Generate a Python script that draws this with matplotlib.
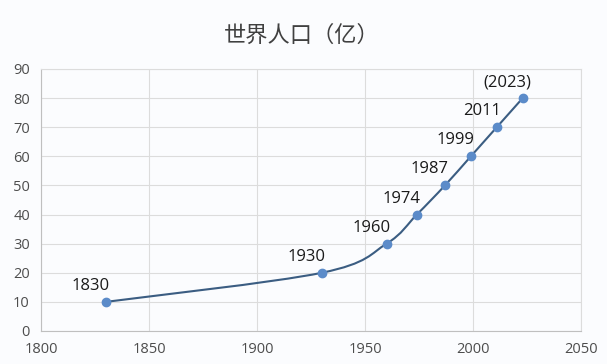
"""World population line chart (Excel-style smoothed line) as PNG."""

import matplotlib.pyplot as plt
import matplotlib as mpl
from matplotlib.path import Path
from matplotlib.patches import PathPatch

# Data: world population milestones (hundred millions)
YEARS = [1830, 1930, 1960, 1974, 1987, 1999, 2011, 2023]
POPULATION = [10, 20, 30, 40, 50, 60, 70, 80]
LABELS = ["1830", "1930", "1960", "1974", "1987", "1999", "2011", "(2023)"]

TITLE = "世界人口（亿）"
X_TICKS = [1800, 1850, 1900, 1950, 2000, 2050]
Y_TICKS = list(range(0, 91, 10))

COLOR_LINE = "#3b5d82"
COLOR_MARKER = "#5b8bc9"
COLOR_GRID = "#dcdcdc"
COLOR_TEXT = "#4d4d4d"
COLOR_BG = "#fbfcfe"

LATIN = ["Open Sans", "DejaVu Sans"]
CJK = ["Noto Sans CJK SC", "DejaVu Sans"]


def smooth_path(xs, ys):
    """Excel-like smoothed line: cubic Bezier segments through every point."""
    pts = list(zip(xs, ys))
    verts = [pts[0]]
    codes = [Path.MOVETO]
    n = len(pts)
    for i in range(n - 1):
        p0 = pts[max(i - 1, 0)]
        p1 = pts[i]
        p2 = pts[i + 1]
        p3 = pts[min(i + 2, n - 1)]
        c1 = (p1[0] + (p2[0] - p0[0]) / 6, p1[1] + (p2[1] - p0[1]) / 6)
        c2 = (p2[0] - (p3[0] - p1[0]) / 6, p2[1] - (p3[1] - p1[1]) / 6)
        verts += [c1, c2, p2]
        codes += [Path.CURVE4] * 3
    return Path(verts, codes)


def main() -> None:
    mpl.rcParams.update(
        {
            "font.family": LATIN,
            "figure.facecolor": COLOR_BG,
            "axes.facecolor": COLOR_BG,
            "savefig.facecolor": COLOR_BG,
        }
    )

    fig = plt.figure(figsize=(6.07, 3.64), dpi=100)
    ax = fig.add_axes([41 / 607, 33 / 364, 540 / 607, 262 / 364])

    patch = PathPatch(
        smooth_path(YEARS, POPULATION),
        facecolor="none",
        edgecolor=COLOR_LINE,
        linewidth=1.5,
        zorder=2,
    )
    ax.add_patch(patch)
    ax.plot(
        YEARS,
        POPULATION,
        linestyle="none",
        marker="o",
        markersize=6,
        color=COLOR_MARKER,
        markeredgecolor=COLOR_MARKER,
        zorder=3,
    )

    for x, y, text in zip(YEARS, POPULATION, LABELS):
        ax.annotate(
            text,
            (x, y),
            xytext=(-15, 16),
            textcoords="offset pixels",
            ha="center",
            va="center",
            fontsize=12,
            color="#1a1a1a",
            zorder=4,
        )

    ax.set_xlim(X_TICKS[0], X_TICKS[-1])
    ax.set_ylim(Y_TICKS[0], Y_TICKS[-1])
    ax.set_xticks(X_TICKS)
    ax.set_yticks(Y_TICKS)
    ax.tick_params(axis="both", length=0, labelsize=10.5, labelcolor=COLOR_TEXT, pad=8)
    ax.grid(True, color=COLOR_GRID, linewidth=0.8)
    ax.set_axisbelow(True)

    for name, spine in ax.spines.items():
        spine.set_color(COLOR_GRID if name in ("top", "right") else "#bfbfbf")
        spine.set_linewidth(0.8)

    fig.text(
        302 / 607,
        1 - 35 / 364,
        TITLE,
        ha="center",
        va="center",
        fontsize=16,
        color="#404040",
        family=CJK,
        fontweight="light",
    )

    fig.savefig("out.png", dpi=100)
    plt.close(fig)


if __name__ == "__main__":
    main()
